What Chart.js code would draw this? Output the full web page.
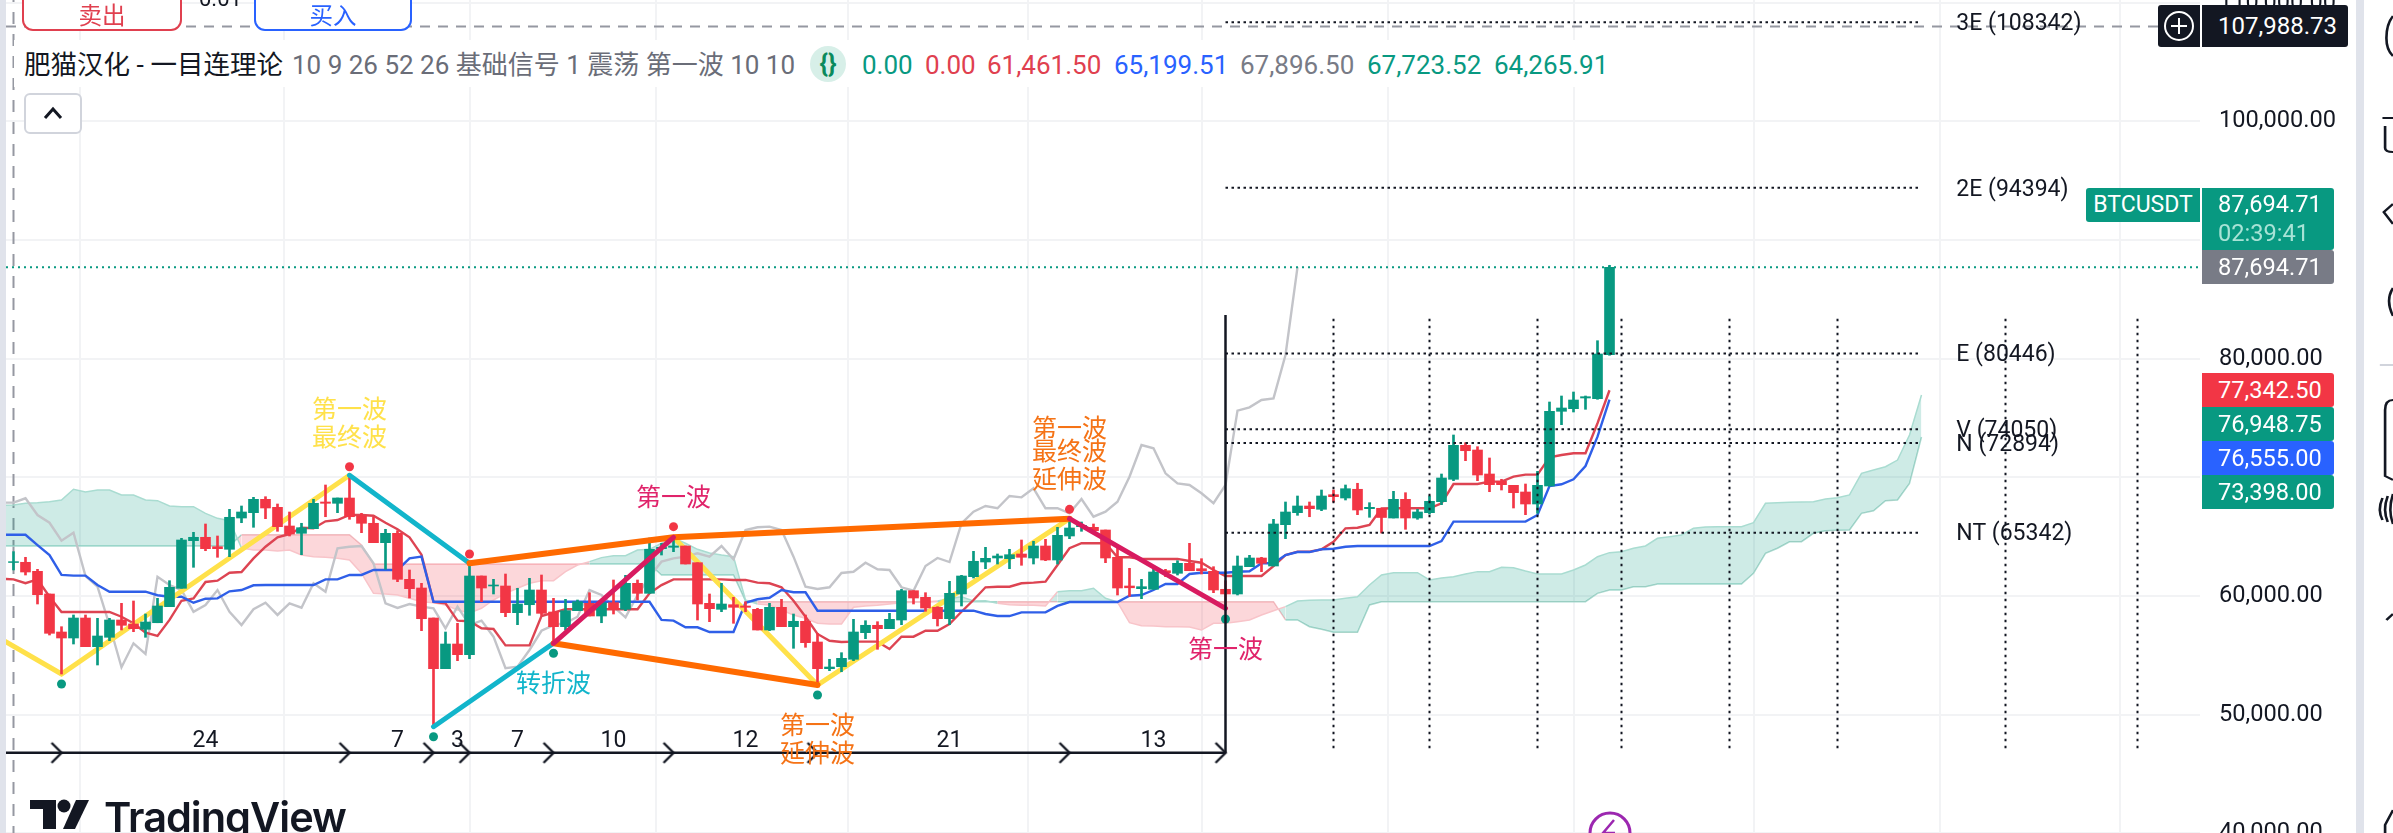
<!DOCTYPE html>
<html><head><meta charset="utf-8"><title>BTCUSDT</title>
<style>
html,body{margin:0;padding:0;background:#fff;width:2393px;height:833px;overflow:hidden}
body{position:relative;font-family:Roboto,"Noto Sans CJK SC",sans-serif;color:#131722}
#wrap{position:absolute;left:0;top:0;width:2393px;height:860px}
.a{position:absolute;white-space:nowrap}
.tag{position:absolute;color:#fff;font-size:23.6px;display:flex;align-items:center;box-sizing:border-box;padding-left:16px;border-radius:0 3px 3px 0;left:2202px;width:131.5px}
.leg{position:absolute;top:48px;font-size:26px;line-height:34px;white-space:nowrap}
.btn{position:absolute;top:-12px;height:43px;box-sizing:border-box;background:#fff;border:2.5px solid;border-radius:0 0 11px 11px;font-size:23.5px;text-align:center;line-height:53px}
</style></head><body>
<div id="wrap"><canvas id="c" width="2393" height="860"></canvas></div>
<div class="a" style="left:0;top:0;width:6px;height:833px;background:#e0e3eb"></div>
<div class="a" style="left:14px;top:40px;width:1600px;height:47px;background:#fff"></div>
<div class="btn" style="left:22px;width:160px;border-color:#e0404f;color:#e0404f">卖出</div>
<div class="a" style="left:199px;top:-12px;font-size:22px;line-height:22px">0.01</div>
<div class="btn" style="left:254px;width:158px;border-color:#2962ff;color:#2962ff">买入</div>
<div class="leg" style="left:24px;color:#131722;font-size:26.5px">肥猫汉化 - 一目连理论</div>
<div class="leg" style="left:292px;color:#6a6d78;font-size:26px">10 9 26 52 26 基础信号 1 震荡 第一波 10 10</div>
<div class="a" style="left:810px;top:46px;width:36px;height:36px;border-radius:18px;background:#d7efe8;color:#0b8a5c;font-size:26px;font-weight:700;line-height:34px;text-align:center">{}</div>
<div class="leg" style="left:862px;color:#089981">0.00</div>
<div class="leg" style="left:925px;color:#e0404f">0.00</div>
<div class="leg" style="left:987px;color:#e0404f">61,461.50</div>
<div class="leg" style="left:1114px;color:#2962ff">65,199.51</div>
<div class="leg" style="left:1240px;color:#787b86">67,896.50</div>
<div class="leg" style="left:1367px;color:#089981">67,723.52</div>
<div class="leg" style="left:1494px;color:#089981">64,265.91</div>
<div class="a" style="left:24px;top:93px;width:58px;height:41px;box-sizing:border-box;border:2px solid #d1d4dc;border-radius:6px;background:#fff">
 <svg width="54" height="37"><path d="M19 23 L27 14 L35 23" fill="none" stroke="#131722" stroke-width="3"/></svg></div>
<div class="a" style="left:2158px;top:5px;width:42px;height:42px;background:#131722;border-radius:3px 0 0 3px">
 <svg width="42" height="42"><circle cx="21" cy="21" r="14" fill="none" stroke="#fff" stroke-width="2"/><path d="M21 13V29M13 21H29" stroke="#fff" stroke-width="2"/></svg></div>
<div class="tag" style="top:5px;height:42px;width:145.5px;background:#131722;font-size:24px">107,988.73</div>
<div class="a" style="left:2086px;top:188px;width:114px;height:34px;background:#089981;color:#fff;font-size:23px;line-height:34px;text-align:center;border-radius:3px 0 0 3px">BTCUSDT</div>
<div class="tag" style="top:188px;height:62px;background:#089981;display:block;padding-top:2px;line-height:29px">87,694.71<br><span style="color:#a8e3d6">02:39:41</span></div>
<div class="tag" style="top:250px;height:34px;background:#787b86">87,694.71</div>
<div class="tag" style="top:373px;height:34px;background:#f23645">77,342.50</div>
<div class="tag" style="top:407px;height:34px;background:#089981">76,948.75</div>
<div class="tag" style="top:441px;height:34px;background:#2962ff">76,555.00</div>
<div class="tag" style="top:475px;height:34px;background:#089981">73,398.00</div>
<div class="a" style="left:2356px;top:0;width:8px;height:833px;background:#e0e3eb"></div>
<svg class="a" style="left:2364px;top:0" width="29" height="833" viewBox="0 0 22 833" preserveAspectRatio="none" fill="none" stroke="#131722" stroke-width="2">
 <path d="M22 16 Q17 24 17 38 Q17 50 22 56M14 118H22M16 126V148Q16 152 22 152M22 204 L15 212 L22 224M22 288 Q16 300 22 316"/>
 <path d="M12 365H22" stroke="#d1d4dc"/>
 <path d="M22 400 Q16 400 16 410V440M22 480 L16 476V440"/>
 <path d="M14 498 Q10 510 14 520M18 496 Q14 510 18 522M22 494 Q18 510 22 524"/>
 <path d="M22 614 L17 620 M22 810 L16 825 L16 833"/>
</svg>
<svg class="a" style="left:30px;top:799px" width="62" height="34" fill="#131722">
 <path d="M0 1H26V30H13V10H0Z"/><circle cx="34" cy="7" r="6.5"/><path d="M46 1H59L45 30H33Z"/></svg>
<div class="a" style="left:104px;top:792px;font:600 41.5px/50px Inter,Roboto,sans-serif;letter-spacing:-1px;color:#131722">TradingView</div>
<svg class="a" style="left:1585px;top:810px" width="50" height="23" fill="none" stroke="#9c27b0" stroke-width="3"><circle cx="25" cy="23" r="20"/><path d="M29 10L18 23H30" stroke-width="2.5"/></svg>

<script src="https://cdn.jsdelivr.net/npm/chart.js@4/dist/chart.umd.min.js"></script>
<script>
// ---------- data ----------
const priceTicks=[110000,100000,90000,80000,70000,60000,50000,40000];
const tickLabels=['110,000.00','100,000.00','','80,000.00','','60,000.00','50,000.00','40,000.00'];
const timeGridBars=[14,31,45,62,77,92,106,123,137,153,168];
const opens=[62830,62847,62087,60176,56974,56469,58153,55736,56528,57985,
57648,57201,57756,59106,60656,64666,64953,64161,63942,66578,
67025,68154,67480,65905,65289,65677,67927,67817,68263,66747,
66133,64498,65289,61414,60681,58153,53882,55963,55062,61692,
60850,60850,58600,59273,60513,58659,57421,58769,59392,58322,
59442,58886,61076,60234,63992,64110,64220,62813,59392,58886,
59273,59165,58886,57143,59054,57421,57876,56132,53882,54050,
54675,56916,57539,57252,57985,60454,59897,59054,58094,60176,
61633,62872,63209,63150,63546,63209,64220,63040,65062,65846,
65795,65568,63268,60850,60622,60572,62138,61920,62762,62307,
62087,60572,60176,62476,63209,62535,66014,67025,67590,67311,
68541,68263,68998,67362,67396,66578,68154,66578,67025,67952,
69840,72703,72308,70286,69671,69333,68769,67758,69275,75568,
75787,76689,76630,80337];
const closes=[62900,62029,60116,56864,56469,58153,55736,56637,57985,57539,
57252,57816,59165,60740,64725,64953,63992,63992,66638,67084,
68154,67421,65847,65230,65762,67817,67817,68263,66687,66133,
64498,65289,61414,60622,58094,53882,55963,55062,61692,60681,
60934,58600,59333,60513,58547,57421,58769,59527,58322,59442,
58886,61076,60234,63942,64110,64220,62703,59333,58937,59333,
59054,59054,57143,59054,57421,57876,56073,53882,54025,54757,
56974,57539,57252,58044,60454,59838,58996,58094,60234,61692,
62931,63183,63377,63487,63268,64220,63040,65121,65736,65963,
65509,63209,60681,60700,60791,62029,61970,62762,62138,62138,
60513,60176,62535,63209,62762,66073,67084,67590,67362,68432,
68373,69047,67253,67480,66621,68154,66578,67084,67986,69949,
72703,72248,70201,69384,69384,68710,67758,69333,75568,75846,
76520,76798,80396,87694.71];
const highs=[63740,63268,62256,60176,57421,58406,58406,58127,58127,59392,
59586,58490,59813,61297,64868,65374,66073,65062,67311,67590,
68322,68373,67758,67084,66133,68154,69359,68263,70176,66975,
66638,65627,65509,62197,61077,58153,56974,57707,62762,61692,
61414,61860,60656,61498,61776,59813,59729,59670,60285,59610,
61355,61750,61355,64893,64447,64953,64220,62813,60176,61076,
59897,59526,58971,59392,59729,58490,58406,56864,54675,55231,
58044,57926,57842,58547,60572,60454,60285,59106,61245,61750,
63773,64110,63546,63942,64725,64616,64784,65795,66520,66242,
66073,65568,64026,62341,61414,62535,62256,62982,64447,63150,
62476,61297,63377,63436,63268,66469,67927,68432,67927,68937,
68937,69359,69503,67868,67396,68828,68710,67311,68432,70285,
73572,72922,72586,71634,69840,69333,69443,70513,76352,76857,
77194,76857,81516,87869];
const lows=[62200,61776,59333,56721,53435,55963,55736,54194,56242,57143,
56999,56528,57756,59106,60656,62424,63823,63268,63318,66182,
65795,66520,65458,65062,63486,65677,66687,67025,66468,65340,
64498,62256,61212,59838,57084,48996,53882,54557,54725,59526,
60176,58263,57589,58381,58381,56022,57143,58769,58322,57756,
58490,58769,59670,60234,63461,63740,62703,57985,57842,58684,
57707,58684,57143,57084,57421,55601,55685,52509,53714,53628,
54557,56411,55516,57252,57589,59333,58718,57480,57589,59165,
61523,62307,62703,62307,62594,62703,62981,62703,64835,65458,
65424,62813,60091,59987,59780,60572,61633,61776,62138,61860,
60285,58971,60091,62476,62055,62535,64835,66805,66687,67194,
67927,68095,66857,66638,65315,66578,65626,66468,66915,67700,
69722,71406,69722,68794,68937,67421,66857,66975,69275,74440,
75509,75736,76579,80286];
// Lines start one bar before the first candle (bar -1).
const conversion=[61460,61410,61080,61410,59950,58660,58660,58660,58660,58660,
58260,57710,56910,56640,57990,59610,59810,61190,61300,61970,
62030,63180,64160,64950,65230,65760,65710,66300,66410,66830,
66830,66770,66180,65630,64950,63490,59500,59390,57930,57880,
57290,57230,55850,55850,55850,58320,58600,58890,58890,58890,
58890,58890,58890,58890,60230,60930,61410,61410,61410,61410,
61410,61360,61360,61130,61080,60740,59610,58260,56810,56240,
56130,56160,56160,56160,55540,56580,56580,57080,57080,57650,
58680,59670,60740,60790,60790,61080,61130,61210,62620,64030,
64450,64450,64450,63270,63270,63130,63130,63130,63130,62960,
62810,62200,61690,61690,61690,61690,62530,63460,63740,63740,
63940,64580,65710,65760,65990,67380,67400,67400,67400,67400,
67820,69440,69440,69440,69640,69640,70060,70230,70230,71690,
71890,72030,72030,74560,77342.5];
const base=[65170,65170,65170,64300,63460,61780,61720,61720,60930,60370,
60370,60370,60370,60070,59950,59950,59440,59780,59810,60400,
60510,60910,60930,60930,60930,60930,60930,61410,61410,61780,
61780,62200,62200,62200,63180,63320,59520,59520,59520,59520,
59520,59520,59520,59520,59520,59520,59520,59520,59520,59520,
59520,59520,59520,59520,59520,57990,57930,57370,57370,56970,
56970,56970,59440,59730,59860,60510,60320,60320,58770,58770,
58770,58770,58770,58770,58770,58770,58770,58770,58770,58770,
58770,58770,58490,58320,58320,58630,58630,58630,59170,59500,
59500,59500,59500,59500,60030,60090,60510,61020,61020,61860,
61970,61970,61970,62050,62090,62760,62760,63460,63710,63710,
63940,63990,64160,64220,64220,64220,64220,64220,64220,64220,
64640,66270,66270,66270,66270,66270,66270,66270,66830,69270,
69420,69840,70960,73430,76555];
const lagging=[67870,67870,68240,66830,66180,64670,65340,61690,60790,57560,
54000,56020,55120,61630,60930,60510,58680,59250,60510,58680,
57560,58890,59440,58410,59390,59020,61080,60370,64030,64160,
64220,62760,59390,59000,59330,59110,58970,57290,59110,57560,
57930,56580,53920,54050,55460,57080,57560,57730,58260,60510,
60090,59110,58210,60090,61630,62900,63180,63320,63600,63320,
64220,63100,65570,65800,65850,65570,63320,60790,60600,60740,
61950,62050,62810,62260,62200,60740,60450,62530,63210,62870,
66130,67110,67590,67400,68430,68320,69080,67400,67400,66980,
68180,66690,67110,67950,70060,72730,72450,70340,69500,69360,
68660,67820,69360,75620,75900,76520,76660,80310,87720];
const spanA=[67620,67680,67820,67870,67950,68100,69000,68770,68940,68940,
68520,68520,68100,68040,67590,67530,67530,66970,66550,66350,
64050,63880,63880,63800,63880,63460,63320,63270,63180,63040,
61920,60230,60180,60090,59810,59530,59440,59250,58830,58580,
58970,59670,60230,60660,61080,61300,61300,62060,62620,62900,
63240,63400,63400,63880,63940,64450,64890,64450,63940,63630,
63460,63320,59670,59330,59250,58830,58410,58130,57710,57650,
57650,59060,59170,59220,59330,59440,59480,59500,59590,59780,
59950,59590,59610,59390,59270,59220,59220,59170,60370,60450,
60450,60660,59810,59500,57760,57510,57480,57420,57420,57400,
57140,57710,57710,57840,57990,58410,58770,59110,59590,59650,
59670,59670,59810,59950,60930,61780,61970,61970,61970,61360,
61520,61630,61860,62060,62060,62420,62390,62110,61860,61860,
61860,62200,62620,63320,63660,63740,64030,64220,64870,65000,
65150,65710,65820,65850,65850,65850,66180,67820,67870,67900,
67930,67950,68180,68290,68520,70340,70620,70900,71460,73570,76948.75];
const spanB=[64220,64220,64220,64220,64220,64220,64220,64220,64220,64220,
64220,64220,64220,64220,64220,64220,64220,64220,64220,64220,
65170,65170,65170,65170,65170,65170,65170,65170,65170,65170,
64300,62700,62700,62700,62700,62700,62700,62700,62700,62700,
62700,62700,62700,62700,62700,62700,62700,62700,62700,62700,
62700,62700,62700,62700,62700,61780,61780,61780,61780,61780,
61780,61780,59590,59530,59530,59530,59530,59530,59530,59530,
59530,59530,59530,59530,59530,59530,59530,59530,59530,59530,
59530,59530,59530,59530,59530,59530,59530,59530,59530,59530,
59530,59530,59530,59530,59530,59530,59530,59530,59530,59530,
59530,59530,59530,59530,59530,59530,59530,57990,57990,57420,
57200,56950,56950,56950,59250,59530,59530,59530,59530,59530,
59530,59530,59530,59530,59530,59530,59530,59530,59530,59530,
59530,59530,59530,60230,60510,60510,60790,60790,61020,61020,
61020,61020,61020,61020,61020,61020,61920,63600,64030,64580,
64580,65290,65510,65540,65570,66970,67190,68040,68100,69500,73398];
const yellowBars=[-1,4,28],yellowPrices=[56370,53435,70176];
const yellow2Bars=[55,67,88],yellow2Prices=[64953,52509,66520];
const cyanABars=[28,38],cyanAPrices=[70176,62762];
const cyanBBars=[35,45],cyanBPrices=[48996,56022];
const orangeUpBars=[38,55,88],orangeUpPrices=[62762,64953,66520];
const orangeLowBars=[45,67],orangeLowPrices=[56022,52509];
const pinkABars=[45,55],pinkAPrices=[56022,64953];
const pinkBBars=[88,101],pinkBPrices=[66520,58971];
const dotBars=[4,28,35,38,45,55,67,88,101];
const dotPrices=[52590,70900,48150,63550,55180,65850,51670,67310,58070];
const dotColors=['#089981','#f23645','#089981','#f23645','#089981','#f23645','#089981','#f23645','#089981'];
const arrowBars=[4,28,35,38,45,55,67,88,101];
const arrowPrice=46800;
const countBars=[16,32,37,42,50,61,78,95];
const countTexts=['24','7','3','7','10','12','21','13'];
const countPrice=47960;
const targetPrices=[108342,94394,80446,74050,72894,65342];
const targetTexts=['3E (108342)','2E (94394)','E (80446)','V (74050)','N (72894)','NT (65342)'];
const timeBars=[110,118,127,134,143,152,166,177];
const lastPrice=87694.71, crossPrice=107988.73;
const waveLabels=[
 [28,75846,'第一波','#ffe14a'],[28,73403,'最终波','#ffe14a'],
 [55,68373,'第一波','#e0246b'],
 [45,52680,'转折波','#12b5cb'],
 [67,49140,'第一波','#f57316'],[67,46780,'延伸波','#f57316'],
 [88,74245,'第一波','#f57316'],[88,72250,'最终波','#f57316'],[88,69865,'延伸波','#f57316'],
 [101,55625,'第一波','#e0246b']];
// ---------- helpers ----------
const UP='#089981',DOWN='#f23645';
const pts=(b,p)=>b.map((x,k)=>({x,y:p[k]}));
const series=a=>a.map((y,k)=>({x:k-1,y}));
const wave=(b,p,color,width,order)=>({type:'line',data:pts(b,p),borderColor:color,borderWidth:width,pointRadius:0,tension:0,order,borderCapStyle:'round'});
const flat=(x0,x1,y,color,width,dash,order)=>({type:'line',data:[{x:x0,y},{x:x1,y}],borderColor:color,borderWidth:width,borderDash:dash,pointRadius:0,order});
const upright=(x,y0,y1,color,width,dash,order)=>({type:'line',data:[{x,y:y0},{x,y:y1}],borderColor:color,borderWidth:width,borderDash:dash,pointRadius:0,order});
const chevron=(()=>{const c=document.createElement('canvas');c.width=24;c.height=24;const g=c.getContext('2d');g.strokeStyle='#131722';g.lineWidth=2.4;g.beginPath();g.moveTo(2,2);g.lineTo(12,12);g.lineTo(2,22);g.stroke();return c;})();
const candleColor=ctx=>closes[ctx.dataIndex]>=opens[ctx.dataIndex]?UP:DOWN;
const edge=ctx=>spanA[ctx.p0DataIndex]>=spanB[ctx.p0DataIndex]?'#a9dcd1':'#f8c4c9';
const Xmin=-0.625,Xmax=182.2083,Ymax=110220,Ymin=37765;

const overlay={id:'overlay',afterDatasetsDraw(ch){
 const g=ch.ctx,x=ch.scales.x,y=ch.scales.y;g.save();g.textBaseline='middle';
 g.textAlign='center';g.font='25px "Noto Sans CJK SC"';
 waveLabels.forEach(l=>{g.fillStyle=l[3];g.fillText(l[2],x.getPixelForValue(l[0]),y.getPixelForValue(l[1]));});
 g.font='23px Roboto';g.fillStyle='#131722';
 countBars.forEach((b,k)=>g.fillText(countTexts[k],x.getPixelForValue(b),y.getPixelForValue(countPrice)+2));
 g.textAlign='left';
 targetPrices.forEach((p,k)=>g.fillText(targetTexts[k],x.getPixelForValue(161.9),y.getPixelForValue(p)+2));
 g.restore();}};

const datasets=[
 // cloud
 {type:'line',data:series(spanA),borderWidth:1.5,borderColor:'#a9dcd1',segment:{borderColor:edge},pointRadius:0,tension:0,order:100,
  fill:{target:'+1',above:'rgba(8,153,129,0.2)',below:'rgba(242,54,69,0.2)'}},
 {type:'line',data:series(spanB),borderWidth:1.5,borderColor:'#a9dcd1',segment:{borderColor:edge},pointRadius:0,tension:0,order:100},
 {type:'line',data:series(lagging),borderColor:'#c3c4c9',borderWidth:2.4,pointRadius:0,tension:0,order:90},
 {type:'line',data:series(conversion),borderColor:'#dd4452',borderWidth:2.4,pointRadius:0,tension:0,order:80},
 {type:'line',data:series(base),borderColor:'#2f5fe8',borderWidth:2.4,pointRadius:0,tension:0,order:70},
 wave(yellowBars,yellowPrices,'#ffe14a',5,60),
 wave(yellow2Bars,yellow2Prices,'#ffe14a',5,60),
 // candles
 {type:'bar',grouped:false,order:50,barThickness:2,data:highs.map((h,i)=>({x:i,y:[lows[i],h]})),backgroundColor:candleColor},
 {type:'bar',grouped:false,order:49,barThickness:10,data:opens.map((o,i)=>({x:i,y:[o,closes[i]]})),backgroundColor:candleColor},
 // wave lines
 wave(cyanABars,cyanAPrices,'#12b5cb',5,40),
 wave(cyanBBars,cyanBPrices,'#12b5cb',5,40),
 wave(orangeUpBars,orangeUpPrices,'#ff6a00',6,38),
 wave(orangeLowBars,orangeLowPrices,'#ff6a00',6,38),
 wave(pinkABars,pinkAPrices,'#d81b60',5,36),
 wave(pinkBBars,pinkBPrices,'#d81b60',5,36),
 {type:'line',data:pts(dotBars,dotPrices),showLine:false,pointRadius:4.5,pointBackgroundColor:dotColors,pointBorderWidth:0,order:30},
 // horizontal guides
 flat(Xmin,Xmax,crossPrice,'#9598a1',2,[10,8],120),
 flat(Xmin,Xmax,lastPrice,'#089981',2,[2,4],25),
 flat(Xmin,101,arrowPrice,'#131722',2.5,[],20),
 upright(101,arrowPrice,83680,'#131722',2.5,[],20),
 {type:'line',data:arrowBars.map(x=>({x,y:arrowPrice})),showLine:false,pointStyle:chevron,pointRadius:12,order:19},
 upright(0,Ymin,Ymax,'#9598a1',2,[12,10],121),
 ...targetPrices.map(p=>flat(101,158.8,p,'#131722',2,[2.5,3.5],24)),
 ...timeBars.map(b=>upright(b,47190,83680,'#131722',2,[2.5,4.5],24))
];

const noPad=s=>{s.paddingTop=0;s.paddingBottom=0;s.paddingLeft=0;s.paddingRight=0;};
new Chart(document.getElementById('c'),{
 data:{datasets},
 plugins:[overlay],
 options:{
  responsive:false,animation:false,parsing:{xAxisKey:'x',yAxisKey:'y'},
  layout:{autoPadding:false,padding:{left:6,right:0,top:0,bottom:0}},
  plugins:{legend:{display:false},tooltip:{enabled:false}},
  events:[],
  scales:{
   x:{type:'linear',min:Xmin,max:Xmax,offset:false,
      grid:{color:'#f2f3f5',lineWidth:2,drawTicks:false},border:{display:false},
      ticks:{display:false},
      afterBuildTicks:s=>{s.ticks=timeGridBars.map(value=>({value}));},
      afterFit:s=>{s.height=0;noPad(s);}},
   y:{type:'linear',position:'right',min:Ymin,max:Ymax,
      grid:{color:'#f2f3f5',lineWidth:2,drawTicks:false},border:{display:false},
      afterBuildTicks:s=>{s.ticks=priceTicks.map(value=>({value}));},
      afterFit:s=>{s.width=193;noPad(s);},
      ticks:{padding:19,autoSkip:false,color:'#131722',font:{family:'Roboto',size:23.6},
        callback:(v)=>tickLabels[priceTicks.indexOf(v)]}}
  }
 }
});
</script>
</body></html>
